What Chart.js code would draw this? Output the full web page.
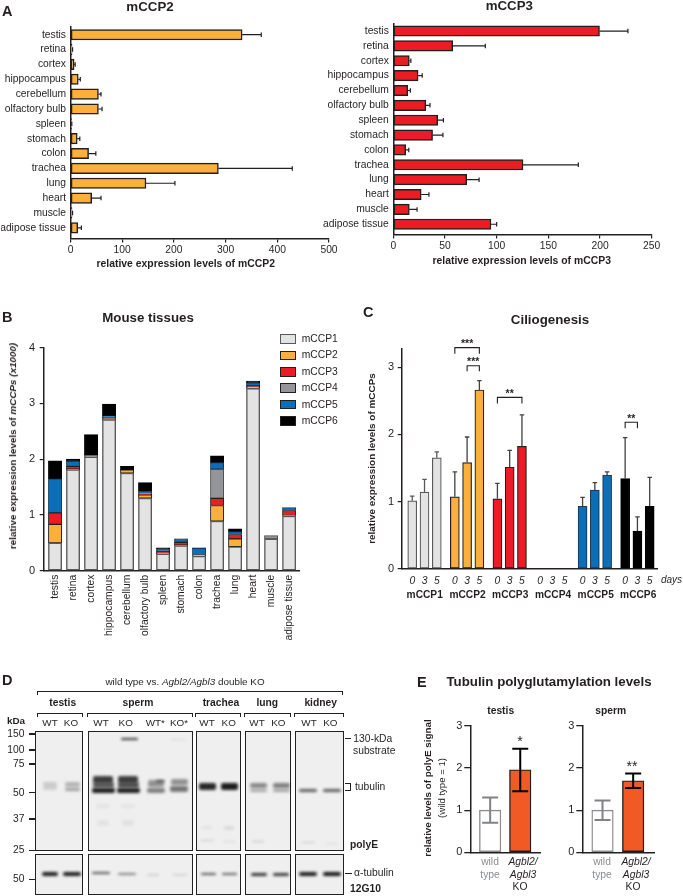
<!DOCTYPE html>
<html><head><meta charset="utf-8">
<script src="https://cdn.jsdelivr.net/npm/chart.js@4"></script>
<style>
html,body{margin:0;padding:0;background:#fff;width:683px;height:896px;overflow:hidden}
#page{position:relative;width:683px;height:896px;font-family:"Liberation Sans",Arial,sans-serif;color:#231f20}
canvas{position:absolute;left:0;top:0}
.t{position:absolute;white-space:nowrap;transform:translate(-50%,-50%);line-height:1}
.box{position:absolute;box-sizing:border-box}
.blot{position:absolute;box-sizing:border-box;border:1.5px solid #222;background:#efefef;overflow:hidden}
.band{position:absolute;background:#111;filter:blur(1.5px);border-radius:2px}
</style></head><body><div id="page"></div>
<script>
// ---------- data ----------
const tissues = ["testis","retina","cortex","hippocampus","cerebellum","olfactory bulb","spleen","stomach","colon","trachea","lung","heart","muscle","adipose tissue"];
const ccp2Values = [332,3,7,15,54,54,2,13,35,286,146,41,3,14];
const ccp2Errors = [369,4,9,19,59,61,2.5,18,49,429,202,59,4,21];
const ccp3Values = [199.5,57.5,15.5,24,14,31.5,43,38,12,125.5,71,27,15.5,94.5];
const ccp3Errors = [227,89,17,28,16.5,35.5,48.5,48,15,179,83,34.5,23,100];
const ccpNames = ["mCCP1","mCCP2","mCCP3","mCCP4","mCCP5","mCCP6"];
const ccpColors = ["#e3e3e3","#fbb03b","#ed1c24","#939598","#0a6fb8","#000000"];
const ccpBorders = ["#58595b","#231f20","#231f20","#4d4d4f","#123a5c","#000000"];
const mouse1 = [.50,1.81,2.04,2.71,1.75,1.30,.30,.45,.26,.89,.43,3.27,.57,.98];
const mouse2 = [.33,.01,0,.02,.06,.06,.01,.01,.03,.28,.14,.03,0,.01];
const mouse3 = [.21,.05,0,.02,0,.01,.04,.05,0,.13,.08,.02,0,.09];
const mouse4 = [0,0,.03,0,0,.02,0,0,0,.52,0,0,.06,0];
const mouse5 = [.61,.09,0,.03,0,.04,.03,.05,.11,.12,.05,.05,0,.05];
const mouse6 = [.32,.04,.37,.21,.06,.15,.03,.01,.01,.12,.05,.03,0,0];
const days = ["0","3","5"];
const cilia1 = [1.01,1.14,1.65], ciliaErr1 = [1.08,1.33,1.74];
const cilia2 = [1.07,1.58,2.66], ciliaErr2 = [1.44,1.96,2.80];
const cilia3 = [1.04,1.51,1.82], ciliaErr3 = [1.27,1.76,2.29];
const cilia4 = [0,0,0],          ciliaErr4 = [0,0,0];
const cilia5 = [.93,1.17,1.39],  ciliaErr5 = [1.06,1.28,1.44];
const cilia6 = [1.34,.56,.93],   ciliaErr6 = [1.95,.77,1.36];
const polyETestis = [1.0,1.96], polyETestisLow = [.70,1.45], polyETestisHigh = [1.30,2.46];
const polyESperm = [1.0,1.70],  polyESpermLow = [.77,1.53],  polyESpermHigh = [1.23,1.87];

// ---------- helpers ----------
const FONT='"Liberation Sans",Arial,sans-serif', INK='#231f20';
const page=document.getElementById('page');
function txt(x,y,html,o={}){const e=document.createElement('div');e.className='t';e.innerHTML=html;
  e.style.left=x+'px';e.style.top=y+'px';e.style.fontSize=(o.size||10.3)+'px';
  if(o.bold)e.style.fontWeight='bold';if(o.italic)e.style.fontStyle='italic';
  if(o.color)e.style.color=o.color;
  let tf=o.align==='left'?'translate(0,-50%)':o.align==='right'?'translate(-100%,-50%)':'translate(-50%,-50%)';
  if(o.rot)tf+=' rotate('+o.rot+'deg)';e.style.transform=tf;page.appendChild(e);return e;}
function box(l,t,w,h,css){const e=document.createElement('div');e.className='box';e.style.cssText=`left:${l}px;top:${t}px;width:${w}px;height:${h}px;${css||''}`;page.appendChild(e);return e;}
function makeChart(area,yw,xh,cfg){const c=document.createElement('canvas');c.width=683;c.height=896;c.style.width='683px';c.style.height='896px';page.appendChild(c);
  const o=cfg.options;o.responsive=false;o.animation=false;o.devicePixelRatio=1;
  o.layout={padding:{left:area.l-yw,top:area.t,right:683-area.r,bottom:896-area.b-xh}};
  o.plugins=Object.assign({legend:{display:false},tooltip:{enabled:false},title:{display:false}},o.plugins||{});
  const xS=o.scales.x,yS=o.scales.y;xS.afterFit=s=>{s.height=xh};yS.afterFit=s=>{s.width=yw};
  xS.offset=false;yS.offset=false;
  return new Chart(c,cfg);}
function errPlugin(items){return{id:'err',afterDatasetsDraw(ch){const {ctx,scales:{x,y}}=ch;ctx.save();
  items.forEach(it=>{ctx.strokeStyle=it.color;ctx.lineWidth=it.lw;ctx.beginPath();
    if(it.horiz){const py=y.getPixelForValue(it.pos),a=x.getPixelForValue(it.from),b=x.getPixelForValue(it.to);
      ctx.moveTo(a,py);ctx.lineTo(b,py);ctx.moveTo(b,py-it.cap/2);ctx.lineTo(b,py+it.cap/2);}
    else{const px=x.getPixelForValue(it.pos),a=y.getPixelForValue(it.from),b=y.getPixelForValue(it.to);
      ctx.moveTo(px,a);ctx.lineTo(px,b);ctx.moveTo(px-it.cap/2,b);ctx.lineTo(px+it.cap/2,b);
      if(it.both){ctx.moveTo(px-it.cap/2,a);ctx.lineTo(px+it.cap/2,a);}}
    ctx.stroke();});ctx.restore();}};}
const idxTicks=(list)=>(s)=>{s.ticks=list.map(v=>({value:v}))};

// ---------- panel A ----------
function hbar(area,yMin,yMax,xMax,step,vals,errs,color){
  makeChart(area,area.l-1,22,{type:'bar',
   data:{datasets:[{data:vals.map((v,i)=>({x:v,y:i})),backgroundColor:color,borderColor:INK,borderWidth:1.5,borderSkipped:false,barThickness:10.5}]},
   options:{indexAxis:'y',scales:{
     x:{type:'linear',min:0,max:xMax,ticks:{stepSize:step,font:{family:FONT,size:10.3},color:INK,padding:1.5,maxRotation:0},
        grid:{drawOnChartArea:false,tickLength:4,color:INK,lineWidth:1.2},border:{color:INK,width:1.5}},
     y:{type:'linear',reverse:true,min:yMin,max:yMax,bounds:'data',afterBuildTicks:idxTicks(tissues.map((_,i)=>i)),
        ticks:{autoSkip:false,callback:v=>tissues[v],font:{family:FONT,size:10.3},color:INK,padding:4.5},
        grid:{display:false,drawTicks:false},border:{color:INK,width:1.5}}}},
   plugins:[errPlugin(vals.map((v,i)=>({horiz:true,pos:i,from:v,to:errs[i],color:INK,lw:1.2,cap:4.5})))]});
}
hbar({l:70.5,r:329,t:27,b:238.5},-0.52,13.72,500,100,ccp2Values,ccp2Errors,'#fbb03b');
hbar({l:393.3,r:651.7,t:23.3,b:234.5},-0.52,13.69,250,50,ccp3Values,ccp3Errors,'#ed1c24');
txt(150,6.5,'mCCP2',{bold:true,size:13.3});
txt(509.3,5.5,'mCCP3',{bold:true,size:13.3});
txt(185.7,264,'relative expression levels of mCCP2',{bold:true,size:10.4});
txt(521.7,260.5,'relative expression levels of mCCP3',{bold:true,size:10.4});

// ---------- panel B ----------
const mouseSeries=[mouse1,mouse2,mouse3,mouse4,mouse5,mouse6];
makeChart({l:43.7,r:299,t:347.7,b:570.7},30,75,{type:'bar',
  data:{datasets:mouseSeries.map((s,k)=>({label:ccpNames[k],data:s.map((v,i)=>({x:i,y:v})),backgroundColor:ccpColors[k],borderColor:ccpBorders[k],borderWidth:k==0?1.4:1,borderSkipped:false,barThickness:13.3}))},
  options:{scales:{
    x:{type:'linear',stacked:true,min:-0.63,max:13.55,bounds:'data',afterBuildTicks:idxTicks(tissues.map((_,i)=>i)),
       ticks:{autoSkip:false,callback:v=>tissues[v],font:{family:FONT,size:10.3},color:INK,padding:4,minRotation:90,maxRotation:90},
       grid:{display:false,drawTicks:false},border:{color:INK,width:1.5}},
    y:{type:'linear',stacked:true,min:0,max:4,ticks:{stepSize:1,font:{family:FONT,size:11},color:INK,padding:4.5},
       grid:{drawOnChartArea:false,tickLength:4,color:INK,lineWidth:1.2},border:{color:INK,width:1.5}}}}});
txt(13,446,'relative expression levels of <i>mCCPs (x1000)</i>',{bold:true,size:9.9,rot:-90});
txt(148,318,'Mouse tissues',{bold:true,size:13.3});
ccpNames.forEach((n,k)=>{const cy=339+k*16.4;
  box(280,cy-4.8,16,9.6,`background:${ccpColors[k]};border:1.3px solid ${k==0?'#58595b':'#231f20'}`);
  txt(301.7,cy,n,{align:'left',size:10.3});});

// ---------- panel C ----------
const ciliaSeries=[cilia1,cilia2,cilia3,cilia4,cilia5,cilia6];
const ciliaErrs=[ciliaErr1,ciliaErr2,ciliaErr3,ciliaErr4,ciliaErr5,ciliaErr6];
const GROUP=3.47;
const pos=(g,i)=>g*GROUP+i;
const allPos=[];ccpNames.forEach((_,g)=>days.forEach((_,i)=>allPos.push(pos(g,i))));
const cErr=[];ciliaSeries.forEach((s,g)=>s.forEach((v,i)=>{if(v>0)cErr.push({pos:pos(g,i),from:v,to:ciliaErrs[g][i],color:g==0?'#58595b':'#414042',lw:1.3,cap:4.5});}));
const brackets=[[pos(1,0),pos(1,2),3.29,3.20,'***'],[pos(1,1),pos(1,2),3.02,2.94,'***'],[pos(2,0),pos(2,2),2.55,2.46,'**'],[pos(5,0),pos(5,1),2.18,2.09,'**']];
const bracketPlugin={id:'br',afterDatasetsDraw(ch){const {ctx,scales:{x,y}}=ch;ctx.save();ctx.strokeStyle=INK;ctx.lineWidth=1.1;ctx.fillStyle=INK;ctx.font='bold 10.5px '+FONT;ctx.textAlign='center';
  brackets.forEach(b=>{const a=x.getPixelForValue(b[0]),c=x.getPixelForValue(b[1]),t=y.getPixelForValue(b[2]),d=y.getPixelForValue(b[3]);
    ctx.beginPath();ctx.moveTo(a,d);ctx.lineTo(a,t);ctx.lineTo(c,t);ctx.lineTo(c,d);ctx.stroke();
    ctx.fillText(b[4],(a+c)/2,t-0.5);});ctx.restore();}};
makeChart({l:401.7,r:657.3,t:348.3,b:568.7},35,25,{type:'bar',
  data:{datasets:ciliaSeries.map((s,g)=>({label:ccpNames[g],grouped:false,data:s.map((v,i)=>({x:pos(g,i),y:v})),backgroundColor:ccpColors[g],borderColor:ccpBorders[g]==='#123a5c'?'#1d3b57':ccpBorders[g],borderWidth:1.2,borderSkipped:false,barThickness:9}))},
  options:{scales:{
    x:{type:'linear',min:-0.86,max:19.97,bounds:'data',afterBuildTicks:idxTicks(allPos),
       ticks:{autoSkip:false,callback:(v,i)=>days[i%3],font:{family:FONT,size:10.3,style:'italic'},color:INK,padding:6,maxRotation:0},
       grid:{display:false,drawTicks:false},border:{color:INK,width:1.5}},
    y:{type:'linear',min:0,max:3.28,bounds:'data',afterBuildTicks:idxTicks([0,1,2,3]),
       ticks:{autoSkip:false,font:{family:FONT,size:11},color:INK,padding:3.7},
       grid:{drawOnChartArea:false,tickLength:4,color:INK,lineWidth:1.2},border:{color:INK,width:1.5},
       title:{display:true,text:'relative expression levels of mCCPs',color:INK,font:{family:FONT,size:9.95,weight:'bold',lineHeight:1.2},padding:0}}}},
  plugins:[errPlugin(cErr),bracketPlugin]});
txt(550,320,'Ciliogenesis',{bold:true,size:13.3});
[424.7,467.5,510.2,553,595.7,638.2].forEach((x,k)=>txt(x,595,ccpNames[k],{bold:true,size:10.2}));
txt(671.5,580,'days',{italic:true,size:10});

// ---------- panel E ----------
function ebar(area,vals,low,high){
  makeChart(area,26,14,{type:'bar',
    data:{datasets:[{data:vals.map((v,i)=>({x:i,y:v})),backgroundColor:['#ffffff','#f15a24'],borderColor:['#8a8c8e','#231f20'],borderWidth:1.4,borderSkipped:false,barThickness:21.5}]},
    options:{scales:{
      x:{type:'linear',min:-0.66,max:1.68,bounds:'data',afterBuildTicks:idxTicks([]),ticks:{display:false},grid:{display:false,drawTicks:false},border:{color:INK,width:1.5}},
      y:{type:'linear',min:0,max:3,ticks:{stepSize:1,font:{family:FONT,size:11},color:INK,padding:2},
         grid:{drawOnChartArea:false,tickLength:6,color:INK,lineWidth:1.3},border:{color:INK,width:1.5}}}},
    plugins:[errPlugin(vals.map((v,i)=>({pos:i,from:low[i],to:high[i],both:true,color:i==0?'#808285':'#000',lw:2,cap:16})))]});
}
ebar({l:470.3,r:540.7,t:726,b:852.3},polyETestis,polyETestisLow,polyETestisHigh);
ebar({l:582.3,r:654,t:726,b:852.3},polyESperm,polyESpermLow,polyESpermHigh);
txt(549,682,'Tubulin polyglutamylation levels',{bold:true,size:13.3});
txt(500.7,710.7,'testis',{bold:true,size:10.3});
txt(610.7,711,'sperm',{bold:true,size:10.3});
txt(428,788,'relative levels of polyE signal',{bold:true,size:9.85,rot:-90});
txt(442,788,'(wild type = 1)',{size:9.6,rot:-90});
[[490,523],[602,636]].forEach(p=>{
  txt(p[0],862,'wild',{color:'#8a8c8e',size:10.3});txt(p[0],874.7,'type',{color:'#8a8c8e',size:10.3});
  txt(p[1],862,'Agbl2/',{italic:true,size:10.3});txt(p[1],874.7,'Agbl3',{italic:true,size:10.3});txt(p[1]-3,887,'KO',{size:10.3});
});
txt(520,741,'*',{size:14});txt(632,766,'**',{size:14});

// ---------- panel D (immunoblot) ----------
const blotX=[[34.7,83.3],[87.7,193.3],[196,241],[245,291],[295.3,344]];
const blotNames=["testis","sperm","trachea","lung","kidney"];
const blotNameX=[62.7,138,221,267.3,320.7];
const laneLabels=[["WT",50],["KO",71],["WT",101],["KO",125.7],["WT*",155.3],["KO*",179],["WT",207],["KO",228.7],["WT",257],["KO",278.3],["WT",309],["KO",330.3]];
const kDaMarks=[["150",734],["100",750],["75",764],["50",792.7],["37",819],["25",850.3],["50",879.3]];
const bandsUpper=[ // x centre, y centre, width, height, darkness
 [50,785,14,6,.16],[50,789,14,2,.14],[72,784,15,5,.26],[72,789,15,3,.36],
 [103,779,20,7,.8],[103,785,21,6,.65],[103,790,23,5,.95],[128,779,20,7,.8],[128,785,21,6,.7],[128,790,23,5,.95],
 [155.7,783,16,7,.42],[155.7,790,18,5,.5],[160,781,9,1.5,.6],[179,782,17,6,.42],[179,789,18,6,.55],
 [207.7,786,17,7,.9],[229,786,17,7,.95],
 [258,785,17,5,.46],[258,790,17,3,.32],[281,785,17,5,.5],[281,790,17,3,.35],
 [308,790,18,3,.66],[331.7,790.5,18,3,.66],
 [129.3,739,17,1.5,.85],[178,739,15,1,.14],
 [207,840,13,1,.2],[229,841,13,1,.14],[258,841,12,1,.24],[308,842,13,1,.2],[331,843,13,1,.12],
 [103,806,14,4,.05],[128,806,14,4,.05],[103,823,12,6,.05],[128,823,12,6,.06],[207,827,10,3,.06],[229,828,10,4,.09]
];
const bandsLower=[
 [50,874,16,3.5,.95],[71.7,874,18,4,.95],[101,873,18,2.5,.7],[127,874,18,2.5,.5],[153,875,12,2,.14],[180,875,14,2,.12],
 [208,873.5,15,2,.7],[229,873.5,15,2,.65],[258.7,874,16,3,.85],[281,874,16,3,.82],[308.3,874,18,4,.95],[331.7,874,18,4.5,.98]
];
function drawBands(list){list.forEach(b=>{const e=document.createElement('div');e.className='band';
  e.style.cssText=`left:${b[0]-b[2]/2}px;top:${b[1]-b[3]/2}px;width:${b[2]}px;height:${b[3]}px;opacity:${b[4]};z-index:2`;page.appendChild(e);});}
blotX.forEach((p,k)=>{
  const up=document.createElement('div');up.className='blot';up.style.cssText=`left:${p[0]}px;top:731px;width:${p[1]-p[0]}px;height:120.3px`;page.appendChild(up);
  const lo=document.createElement('div');lo.className='blot';lo.style.cssText=`left:${p[0]}px;top:854.3px;width:${p[1]-p[0]}px;height:41px`;page.appendChild(lo);
  box(p[0]+(k?-1:2),712.7,p[1]-p[0]+(k?1:-2),4,'border:1.2px solid #231f20;border-bottom:none');
  txt(blotNameX[k],702.7,blotNames[k],{bold:true,size:10.3});
});
drawBands(bandsUpper);drawBands(bandsLower);
box(36.7,691,306.8,4,'border:1.2px solid #231f20;border-bottom:none');
txt(185,681.7,'wild type vs. <i>Agbl2/Agbl3</i> double KO',{size:9.9});
txt(16,720.7,'kDa',{bold:true,size:9.9});
laneLabels.forEach(l=>txt(l[1],722.7,l[0],{size:9.9}));
kDaMarks.forEach(m=>{txt(24.5,m[1],m[0],{align:'right',size:10.3});box(29,m[1]-.6,5.7,1.2,'background:#231f20');});
box(344.5,738.2,6,1.2,'background:#231f20');
txt(353.3,738.5,'130-kDa',{align:'left',size:10.3});
txt(353,751,'substrate',{align:'left',size:10.3});
box(345,782.7,6,8.6,'border:1.2px solid #231f20;border-left:none');
txt(355,786.7,'tubulin',{align:'left',size:10.3});
txt(350,845,'polyE',{align:'left',bold:true,size:10.3});
box(345,873,7,1.2,'background:#231f20');
txt(354,872.7,'α-tubulin',{align:'left',size:10.3});
txt(350,889,'12G10',{align:'left',bold:true,size:10.3});

// ---------- panel letters ----------
txt(2,10.5,'A',{align:'left',bold:true,size:14.5});
txt(2,317,'B',{align:'left',bold:true,size:14.5});
txt(363,312,'C',{align:'left',bold:true,size:14.5});
txt(2,680,'D',{align:'left',bold:true,size:14.5});
txt(417,681.5,'E',{align:'left',bold:true,size:14.5});
</script></body></html>
